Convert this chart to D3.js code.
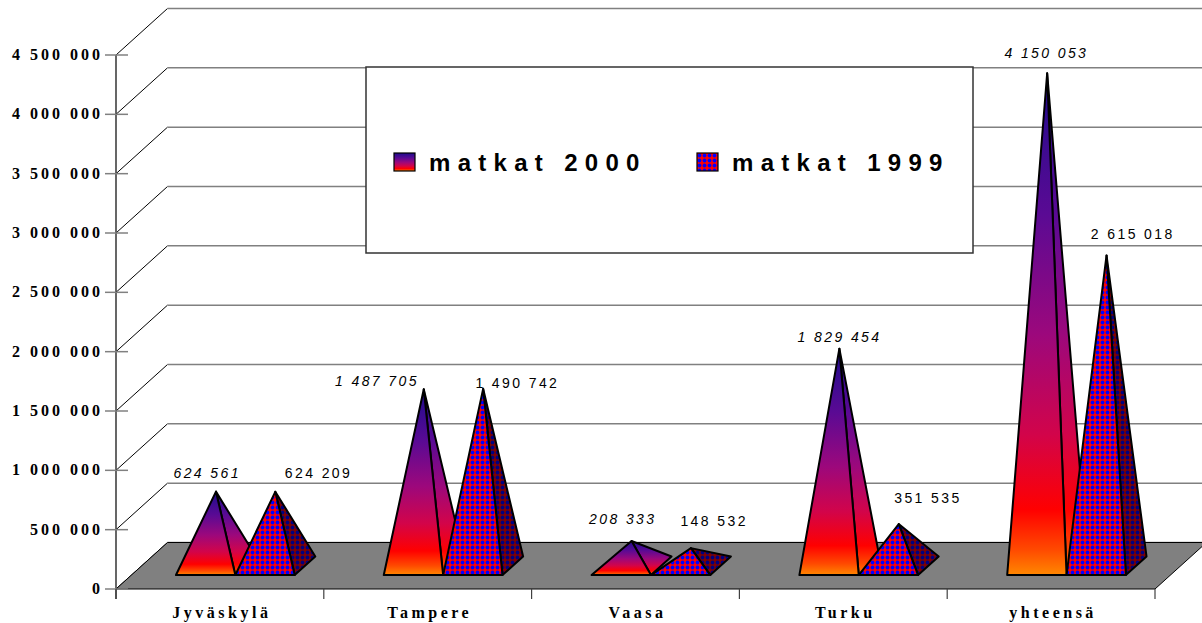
<!DOCTYPE html>
<html lang="fi">
<head>
<meta charset="UTF-8">
<title>matkat 2000 / 1999</title>
<script src="https://cdn.jsdelivr.net/npm/d3@7"></script>
<style>
  body { margin: 0; background: #fff; }
  svg { display: block; }
</style>
</head>
<body>
<svg width="1202" height="623"></svg>
<script>
const categories = ["Jyväskylä", "Tampere", "Vaasa", "Turku", "yhteensä"];
const seriesNames = ["matkat 2000", "matkat 1999"];
const matkat2000 = [624561, 1487705, 208333, 1829454, 4150053];
const matkat1999 = [624209, 1490742, 148532, 351535, 2615018];
const yTicks = [0, 500000, 1000000, 1500000, 2000000, 2500000, 3000000, 3500000, 4000000, 4500000];

// label offsets from each pyramid's apex (label centre dx, baseline dy)
const nudge2000 = [[-10, -14], [-48, -3], [-10, -17], [-1, -7], [-2, -15]];
const nudge1999 = [[42, -14], [33, -1], [22, -22], [28, -21], [25, -16]];

const svg = d3.select("svg");
const dX = 51.5, dY = -46.5; // oblique depth of the plot
const fmt = v => d3.format(",")(v).replace(/,/g, " ");

const x = d3.scaleBand().domain(categories).range([116, 1155]);
const xs = d3.scaleBand().domain(seriesNames).range([0, x.bandwidth()]).paddingInner(0).paddingOuter(0.75);
const y = d3.scaleLinear().domain([0, 4500000]).range([589, 55]);

// defs: gradient for 2000, dot patterns for 1999
const defs = svg.append("defs");
const grad = defs.append("linearGradient").attr("id", "g2000")
  .attr("x1", 0).attr("y1", 0).attr("x2", 0).attr("y2", 1);
[[0, "#1e0c8c"], [0.28, "#5a0a94"], [0.52, "#9c087c"], [0.72, "#d2044a"], [0.87, "#ff0000"], [0.95, "#ff4a00"], [1, "#ff8800"]]
  .forEach(s => grad.append("stop").attr("offset", s[0]).attr("stop-color", s[1]));

function dots(id, bg, fg) {
  const p = defs.append("pattern").attr("id", id).attr("patternUnits", "userSpaceOnUse")
    .attr("width", 5).attr("height", 5);
  p.append("rect").attr("width", 5).attr("height", 5).attr("fill", bg);
  p.append("circle").attr("cx", 2.5).attr("cy", 2.5).attr("r", 1.9).attr("fill", fg);
}
dots("d1999", "#ff0000", "#0000ff");
dots("d1999dark", "#800000", "#000080");

// walls: diagonal lines on side wall, gridlines on back wall
const grid = svg.append("g");
grid.selectAll(".diag").data(yTicks).enter().append("line")
  .attr("x1", 116).attr("y1", d => y(d))
  .attr("x2", 116 + dX).attr("y2", d => y(d) + dY)
  .attr("stroke", "#000").attr("stroke-width", 1);
grid.selectAll(".back").data(yTicks).enter().append("line")
  .attr("x1", 116 + dX).attr("y1", d => y(d) + dY)
  .attr("x2", 1155 + dX).attr("y2", d => y(d) + dY)
  .attr("stroke", "#808080").attr("stroke-width", 1.5);

// floor
const y0 = y(0);
svg.append("polygon")
  .attr("points", [[116, y0], [1155, y0], [1155 + dX, y0 + dY], [116 + dX, y0 + dY]].join(" "))
  .attr("fill", "#808080").attr("stroke", "#000").attr("stroke-width", 1);

// y axis
svg.append("line").attr("x1", 116).attr("x2", 116).attr("y1", y(4500000)).attr("y2", 599)
  .attr("stroke", "#000").attr("stroke-width", 1.2);
svg.selectAll(".ytick").data(yTicks).enter().append("line")
  .attr("x1", 105).attr("x2", 128).attr("y1", d => y(d)).attr("y2", d => y(d))
  .attr("stroke", "#808080").attr("stroke-width", 1.5);
svg.selectAll(".ylab").data(yTicks).enter().append("text")
  .attr("x", 103).attr("y", d => y(d) + 5)
  .attr("text-anchor", "end")
  .style("font", "bold 16px 'Liberation Serif'").style("letter-spacing", "3px")
  .text(fmt);

// x axis ticks and labels
const xEdges = categories.map(c => x(c)).concat([x.range()[1]]);
svg.selectAll(".xtick").data(xEdges).enter().append("line")
  .attr("x1", d => d).attr("x2", d => d).attr("y1", y0).attr("y2", 599)
  .attr("stroke", "#404040").attr("stroke-width", 1.2);
svg.selectAll(".xlab").data(categories).enter().append("text")
  .attr("x", d => x(d) + x.bandwidth() / 2 + 2).attr("y", 618)
  .attr("text-anchor", "middle")
  .style("font", "bold 16px 'Liberation Serif'").style("letter-spacing", "3.5px")
  .text(d => d);

// pyramids
const points = [];
categories.forEach((c, i) => {
  points.push({ c, s: seriesNames[0], v: matkat2000[i], nudge: nudge2000[i] });
  points.push({ c, s: seriesNames[1], v: matkat1999[i], nudge: nudge1999[i] });
});
points.forEach(p => {
  const left = x(p.c) + xs(p.s), w = xs.bandwidth();
  p.fl = [left + 0.3 * dX, y0 + 0.3 * dY];
  p.fr = [left + w + 0.3 * dX, y0 + 0.3 * dY];
  p.br = [left + w + 0.7 * dX, y0 + 0.7 * dY];
  p.apex = [left + w / 2 + 0.5 * dX, y(p.v) + 0.5 * dY];
});

const pyr = svg.selectAll(".pyr").data(points).enter().append("g");
pyr.append("polygon")
  .attr("points", d => [d.fr, d.br, d.apex].join(" "))
  .attr("fill", d => d.s === seriesNames[0] ? "url(#g2000)" : "url(#d1999dark)")
  .attr("stroke", "#000").attr("stroke-width", 2).attr("stroke-linejoin", "round");
pyr.append("polygon")
  .attr("points", d => [d.fl, d.fr, d.apex].join(" "))
  .attr("fill", d => d.s === seriesNames[0] ? "url(#g2000)" : "url(#d1999)")
  .attr("stroke", "#000").attr("stroke-width", 2).attr("stroke-linejoin", "round");

// data labels
svg.selectAll(".dlab").data(points).enter().append("text")
  .attr("x", d => d.apex[0] + d.nudge[0] + 1.2)
  .attr("y", d => d.apex[1] + d.nudge[1])
  .attr("text-anchor", "middle")
  .style("font", d => (d.s === seriesNames[0] ? "italic " : "") + "14px 'Liberation Sans'")
  .style("letter-spacing", "2.4px")
  .text(d => fmt(d.v));

// legend
const legend = svg.append("g");
legend.append("rect").attr("x", 366).attr("y", 67).attr("width", 607).attr("height", 186)
  .attr("fill", "#fff").attr("stroke", "#333").attr("stroke-width", 1.5);
const items = legend.selectAll(".item").data(seriesNames).enter().append("g")
  .attr("transform", (d, i) => `translate(${394 + i * 303},153)`);
items.append("rect").attr("width", 21).attr("height", 18)
  .attr("fill", (d, i) => i === 0 ? "url(#g2000)" : "url(#d1999)")
  .attr("stroke", "#000").attr("stroke-width", 1.2);
items.append("text").attr("x", 35).attr("y", 18)
  .style("font", "bold 24px 'Liberation Sans'").style("letter-spacing", "7.3px")
  .text(d => d);
</script>
</body>
</html>
